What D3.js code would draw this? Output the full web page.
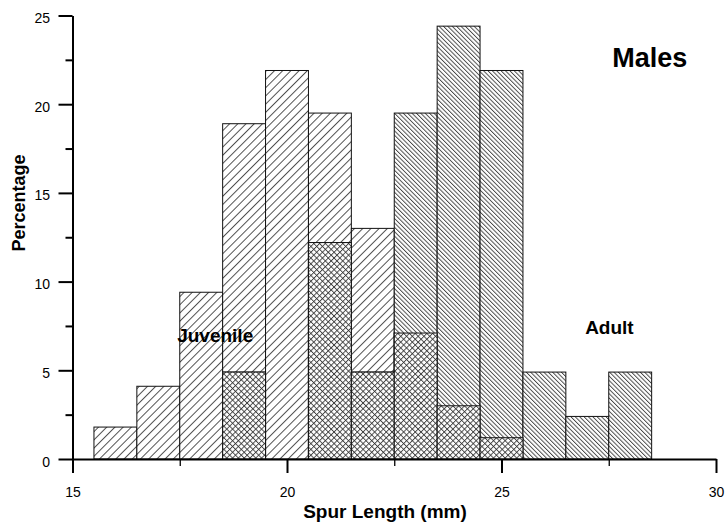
<!DOCTYPE html>
<html>
<head>
<meta charset="utf-8">
<script src="https://cdn.jsdelivr.net/npm/d3@7"></script>
<style>
  html, body { margin: 0; padding: 0; background: #fff; }
  svg text { font-family: "Liberation Sans", Arial, Helvetica, sans-serif; fill: #000; }
</style>
</head>
<body>
<svg id="chart" width="725" height="522"></svg>
<script>
// bin centres (mm), bins are 1 mm wide
const bins = [16, 17, 18, 19, 20, 21, 22, 23, 24, 25, 26, 27, 28];
// percentage of juvenile / adult males in each bin
const juvenile = [1.8, 4.1, 9.4, 18.9, 21.9, 19.5, 13.0, 7.1, 3.0, 1.2, 0, 0, 0];
const adult = [0, 0, 0, 4.9, 0, 12.2, 4.9, 19.5, 24.4, 21.9, 4.9, 2.4, 4.9];

const xMajorTicks = [15, 20, 25, 30];
const xMinorTicks = [17.5, 22.5, 27.5];
const yMajorTicks = [0, 5, 10, 15, 20, 25];
const yMinorTicks = [2.5, 7.5, 12.5, 17.5, 22.5];

const svg = d3.select('#chart');

const x = d3.scaleLinear().domain([15, 30]).range([72.5, 716]);
const y = d3.scaleLinear().domain([0, 25]).range([459, 15.5]);

// hatch patterns
const defs = svg.append('defs');
function hatch(id, spacing, angles) {
    angles.forEach((a, i) => {
        const p = defs.append('pattern')
            .attr('id', id + (angles.length > 1 ? i : ''))
            .attr('patternUnits', 'userSpaceOnUse')
            .attr('width', spacing)
            .attr('height', spacing)
            .attr('patternTransform', `rotate(${a})`);
        if (i === 0) p.append('rect').attr('width', spacing).attr('height', spacing).attr('fill', '#fff');
        p.append('line')
            .attr('x1', 0.5).attr('y1', 0)
            .attr('x2', 0.5).attr('y2', spacing)
            .attr('stroke', '#333')
            .attr('stroke-width', 0.85);
    });
}
hatch('juv', 5.8, [45]);
hatch('adu', 3.1, [-45]);
hatch('cross', 4.1, [45, -45]);

const rows = bins.map((b, i) => ({ bin: b, juv: juvenile[i], adu: adult[i] }));

const bars = svg.append('g').attr('class', 'bars');

function drawBars(key, fill) {
    bars.selectAll('.bar-' + key)
        .data(rows.filter(d => d[key] > 0))
        .enter().append('rect')
        .attr('class', 'bar-' + key)
        .attr('x', d => x(d.bin - 0.5))
        .attr('width', d => x(d.bin + 0.5) - x(d.bin - 0.5))
        .attr('y', d => y(d[key]))
        .attr('height', d => y(0) - y(d[key]))
        .attr('fill', fill)
        .attr('stroke', '#111')
        .attr('stroke-width', 1);
}
drawBars('juv', 'url(#juv)');
drawBars('adu', 'url(#adu)');

// overlap region, cross-hatched
const overlap = rows.filter(d => d.juv > 0 && d.adu > 0)
    .map(d => ({ bin: d.bin, v: Math.min(d.juv, d.adu) }));
const ov = bars.selectAll('.overlap')
    .data(overlap)
    .enter().append('g')
    .attr('class', 'overlap');
ov.append('rect')
    .attr('x', d => x(d.bin - 0.5))
    .attr('width', d => x(d.bin + 0.5) - x(d.bin - 0.5))
    .attr('y', d => y(d.v))
    .attr('height', d => y(0) - y(d.v))
    .attr('fill', 'url(#cross0)')
    .attr('stroke', 'none');
ov.append('rect')
    .attr('x', d => x(d.bin - 0.5))
    .attr('width', d => x(d.bin + 0.5) - x(d.bin - 0.5))
    .attr('y', d => y(d.v))
    .attr('height', d => y(0) - y(d.v))
    .attr('fill', 'url(#cross1)')
    .attr('stroke', '#111')
    .attr('stroke-width', 1);

// axes
const yAxis = svg.append('g')
    .attr('transform', `translate(${x(15)},0)`)
    .call(d3.axisLeft(y).tickValues(yMajorTicks).tickSize(14).tickSizeOuter(0).tickPadding(8.5));
const yMinor = svg.append('g')
    .attr('transform', `translate(${x(15)},0)`)
    .call(d3.axisLeft(y).tickValues(yMinorTicks).tickSize(7).tickSizeOuter(0).tickFormat(''));
yMinor.select('.domain').remove();

const xAxis = svg.append('g')
    .attr('transform', `translate(0,${y(0)})`)
    .call(d3.axisBottom(x).tickValues(xMajorTicks).tickSize(14).tickSizeOuter(0).tickPadding(14));
const xMinor = svg.append('g')
    .attr('transform', `translate(0,${y(0)})`)
    .call(d3.axisBottom(x).tickValues(xMinorTicks).tickSize(7).tickSizeOuter(0).tickFormat(''));
xMinor.select('.domain').remove();

svg.selectAll('.domain').attr('stroke', '#000').attr('stroke-width', 2);
svg.selectAll('.tick line').attr('stroke', '#000').attr('stroke-width', 2);
xMinor.selectAll('.tick line').attr('stroke-width', 1.3);
svg.selectAll('.tick text')
    .attr('font-size', 14)
    .attr('font-family', '"Liberation Sans", Arial, sans-serif');
yAxis.selectAll('.tick text').attr('dy', '0.5em');

// titles
svg.append('text')
    .attr('x', 385).attr('y', 518)
    .attr('text-anchor', 'middle')
    .attr('font-size', 19).attr('font-weight', 'bold')
    .text('Spur Length (mm)');

svg.append('text')
    .attr('transform', 'translate(25,203) rotate(-90)')
    .attr('text-anchor', 'middle')
    .attr('font-size', 18).attr('font-weight', 'bold')
    .text('Percentage');

// annotations
svg.append('text')
    .attr('x', x(27.58)).attr('y', y(22.1))
    .attr('font-size', 27).attr('font-weight', 'bold')
    .text('Males');
svg.append('text')
    .attr('x', x(17.44)).attr('y', y(6.62))
    .attr('font-size', 19).attr('font-weight', 'bold')
    .text('Juvenile');
svg.append('text')
    .attr('x', x(26.95)).attr('y', y(7.05))
    .attr('font-size', 19).attr('font-weight', 'bold')
    .text('Adult');
</script>
</body>
</html>
